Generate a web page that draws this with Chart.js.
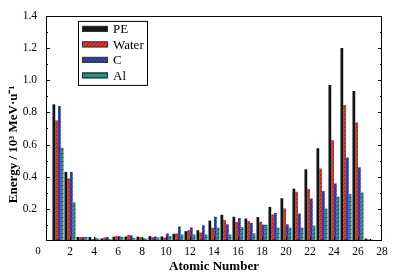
<!DOCTYPE html>
<html>
<head>
<meta charset="utf-8">
<script src="https://cdn.jsdelivr.net/npm/chart.js@4.4.1/dist/chart.umd.min.js"></script>
<style>
  html, body { margin: 0; padding: 0; background: #fff; }
  #wrap { width: 393px; height: 276px; }
</style>
</head>
<body>
<div id="wrap"><canvas id="energyChart" width="393" height="276"></canvas></div>
<script>
// Data (energy in 10^3 MeV/u per atomic number)
const atomicNumbers = [1, 2, 3, 4, 5, 6, 7, 8, 9, 10, 11, 12, 13, 14, 15, 16, 17, 18, 19, 20, 21, 22, 23, 24, 25, 26, 27];
const pe    = [0.85, 0.43, 0.025, 0.025, 0.016, 0.027, 0.028, 0.027, 0.030, 0.028, 0.045, 0.061, 0.067, 0.127, 0.163, 0.151, 0.140, 0.149, 0.212, 0.266, 0.326, 0.446, 0.577, 0.970, 1.200, 0.933, 0.015];
const water = [0.75, 0.39, 0.025, 0.012, 0.022, 0.030, 0.037, 0.025, 0.025, 0.021, 0.047, 0.067, 0.053, 0.082, 0.131, 0.118, 0.124, 0.120, 0.165, 0.203, 0.306, 0.323, 0.451, 0.627, 0.846, 0.737, 0.010];
const carbon = [0.84, 0.43, 0.025, 0.020, 0.025, 0.030, 0.035, 0.018, 0.028, 0.047, 0.090, 0.084, 0.098, 0.151, 0.104, 0.143, 0.112, 0.102, 0.174, 0.104, 0.171, 0.264, 0.310, 0.358, 0.519, 0.458, 0.008];
const alu   = [0.58, 0.24, 0.025, 0.015, 0.012, 0.025, 0.020, 0.015, 0.022, 0.030, 0.041, 0.041, 0.041, 0.084, 0.041, 0.087, 0.047, 0.101, 0.084, 0.084, 0.084, 0.096, 0.202, 0.276, 0.293, 0.302, 0.003];
const seriesNames = ['PE', 'Water', 'C', 'Al'];
const xTicks = [0, 2, 4, 6, 8, 10, 12, 14, 16, 18, 20, 22, 24, 26, 28];
const yTicks = [0, 0.2, 0.4, 0.6, 0.8, 1.0, 1.2, 1.4];

const SERIF = '"Liberation Serif", "Times New Roman", serif';

// small repeating fills to mimic the hatched bars
function makePattern(base, ink, kind) {
    const c = document.createElement('canvas');
    c.width = 4; c.height = 4;
    const g = c.getContext('2d');
    g.fillStyle = base;
    g.fillRect(0, 0, 4, 4);
    g.fillStyle = ink;
    if (kind === 'diag') {
        for (let i = 0; i < 4; i++) g.fillRect(i, 3 - i, 1, 1);
    } else if (kind === 'check') {
        g.fillRect(0, 0, 1, 1); g.fillRect(2, 2, 1, 1);
    } else if (kind === 'hline') {
        g.fillRect(0, 1, 4, 1);
    }
    return g.createPattern(c, 'repeat');
}

const fills = [
    '#141414',
    makePattern('#e8352a', '#a81c14', 'diag'),
    makePattern('#2b3a97', '#5868c4', 'check'),
    makePattern('#2f8c7a', '#1c5e51', 'hline')
];

function toPoints(arr) {
    return atomicNumbers.map((z, i) => ({ x: z, y: arr[i] }));
}

const datasets = [pe, water, carbon, alu].map((arr, i) => {
    const ds = {
        label: seriesNames[i],
        backgroundColor: fills[i],
        borderWidth: 0,
        categoryPercentage: 0.92,
        barPercentage: 1.0
    };
    ds['data'] = toPoints(arr);
    return ds;
});

// frame, inward ticks, legend box, axis titles
const framePlugin = {
    id: 'frame',
    afterDraw(chart) {
        const { ctx, chartArea: a, scales: { x, y } } = chart;
        ctx.save();
        ctx.strokeStyle = '#000';
        ctx.lineWidth = 1;
        ctx.strokeRect(Math.round(a.left) + 0.5, Math.round(a.top) + 0.5,
            Math.round(a.right - a.left) - 1, Math.round(a.bottom - a.top) - 1);

        ctx.beginPath();
        for (let k = 1; k < 14; k++) {
            const py = Math.round(y.getPixelForValue(k / 10)) + 0.5;
            const len = k % 2 === 0 ? 4 : 2;
            ctx.moveTo(a.left, py); ctx.lineTo(a.left + len, py);
            ctx.moveTo(a.right, py); ctx.lineTo(a.right - len, py);
        }
        for (let z = 1; z < 28; z++) {
            const px = Math.round(x.getPixelForValue(z)) + 0.5;
            const len = z % 2 === 0 ? 4 : 2;
            ctx.moveTo(px, a.bottom); ctx.lineTo(px, a.bottom - len);
        }
        ctx.stroke();

        // shared origin label
        ctx.fillStyle = '#000';
        ctx.font = '11px ' + SERIF;
        ctx.textAlign = 'center';
        ctx.textBaseline = 'middle';
        ctx.fillText('0', a.left - 8, a.bottom + 10);

        // legend
        const lx = a.left + 32, ly = a.top + 5;
        ctx.fillStyle = '#fff';
        ctx.fillRect(lx, ly, 69, 64);
        ctx.strokeRect(lx + 0.5, ly + 0.5, 69, 64);
        ctx.font = '13px ' + SERIF;
        ctx.textAlign = 'left';
        chart.data.datasets.forEach((ds, i) => {
            const ry = ly + 8 + i * 15.5;
            ctx.fillStyle = ds.backgroundColor;
            ctx.fillRect(lx + 4, ry - 3, 26, 6);
            ctx.strokeStyle = '#333';
            ctx.strokeRect(lx + 4.5, ry - 2.5, 25, 5);
            ctx.fillStyle = '#000';
            ctx.fillText(ds.label, lx + 35, ry + 1);
        });

        // axis titles
        ctx.font = 'bold 13px ' + SERIF;
        ctx.textAlign = 'center';
        ctx.fillText('Atomic Number', (a.left + a.right) / 2, 267);
        ctx.save();
        ctx.translate(14, (a.top + a.bottom) / 2 + 16);
        ctx.rotate(-Math.PI / 2);
        ctx.font = 'bold 13px ' + SERIF;
        ctx.fillText('Energy / 10\u00B3 MeV\u00B7u\u207B\u00B9', 0, 0);
        ctx.restore();
        ctx.restore();
    }
};

const chartConfig = {
    type: 'bar',
    options: {
        responsive: false,
        devicePixelRatio: 1,
        animation: false,
        layout: { padding: { left: 0, right: 11, top: 12, bottom: 0 } },
        plugins: { legend: { display: false }, tooltip: { enabled: false } },
        scales: {
            x: {
                type: 'linear',
                min: 0,
                max: 28,
                offset: false,
                grid: { display: false, drawTicks: false, offset: false },
                border: { display: false },
                afterBuildTicks: s => { s.ticks = xTicks.map(v => ({ value: v })); },
                afterFit: s => { s.height = 35; },
                ticks: {
                    padding: 4,
                    maxRotation: 0,
                    autoSkip: false,
                    color: '#000',
                    font: { family: SERIF, size: 11.5 },
                    callback: v => (v === 0 ? '' : v)
                }
            },
            y: {
                min: 0,
                max: 1.4,
                grid: { display: false, drawTicks: false },
                border: { display: false },
                afterBuildTicks: s => { s.ticks = yTicks.map(v => ({ value: v })); },
                afterFit: s => { s.width = 46; },
                ticks: {
                    padding: 9,
                    color: '#000',
                    font: { family: SERIF, size: 11.5 },
                    callback: v => (v === 0 ? '' : v.toFixed(1))
                }
            }
        }
    },
    plugins: [framePlugin]
};
chartConfig['data'] = { datasets };

new Chart(document.getElementById('energyChart').getContext('2d'), chartConfig);
</script>
</body>
</html>
